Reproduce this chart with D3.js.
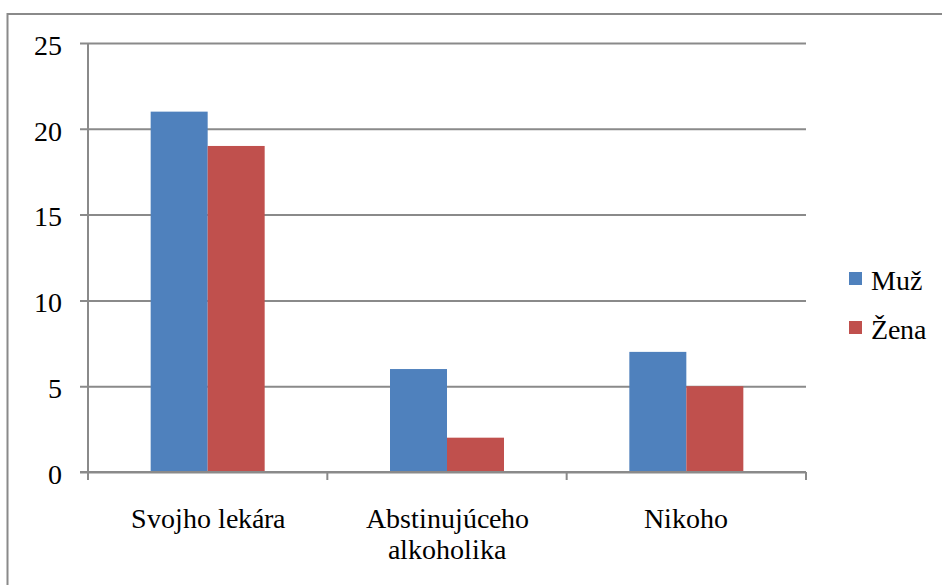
<!DOCTYPE html>
<html>
<head>
<meta charset="utf-8">
<script src="https://cdn.jsdelivr.net/npm/d3@7"></script>
<style>
  @font-face {
    font-family: "ChartSerif";
    src: local("Liberation Serif"), local("LiberationSerif"), local("LiberationSerif-Regular"), local("Times New Roman");
  }
  html, body { margin: 0; padding: 0; background: #fff; }
  svg { display: block; }
</style>
</head>
<body>
<svg id="chart" width="942" height="585"></svg>
<script>
// Who respondents would turn to, by gender
const categories = [["Svojho lekára"], ["Abstinujúceho", "alkoholika"], ["Nikoho"]];
const seriesNames = ["Muž", "Žena"];
const muzValues = [21, 6, 7];
const zenaValues = [19, 2, 5];
const yTicks = [0, 5, 10, 15, 20, 25];
const colors = ["#4F81BD", "#C0504D"];

const FONT = "ChartSerif, 'Liberation Serif', 'Times New Roman', serif";
const FONT_SIZE = 28;
const svg = d3.select("#chart");
const gridColor = "#8a8a8a";

// Outer chart frame (runs past the right and bottom edges)
svg.append("rect")
  .attr("x", 7.5).attr("y", 14)
  .attr("width", 1000).attr("height", 700)
  .attr("fill", "none").attr("stroke", gridColor).attr("stroke-width", 2);

const plot = { left: 88, right: 806, top: 43, bottom: 472 };

const x = d3.scaleBand()
  .domain(d3.range(categories.length))
  .range([plot.left, plot.right])
  .paddingInner(0).paddingOuter(0);

const y = d3.scaleLinear().domain([0, 25]).range([plot.bottom, plot.top]);

// Horizontal gridlines with small outward ticks
const yAxis = d3.axisLeft(y).tickValues(yTicks)
  .tickSize(-(plot.right - plot.left)).tickFormat(d3.format("d"));
const gy = svg.append("g").attr("transform", `translate(${plot.left},0)`).call(yAxis)
  .attr("font-family", FONT).attr("font-size", FONT_SIZE);
gy.select(".domain").remove();
gy.selectAll(".tick line")
  .attr("x1", -8)
  .attr("stroke", gridColor).attr("stroke-width", 2);
gy.selectAll(".tick text")
  .attr("x", -26)
  .attr("dy", "0.4em")
  .attr("fill", "#000")
  .style("font-family", FONT)
  .style("font-size", FONT_SIZE + "px");

// Vertical axis line
svg.append("line")
  .attr("x1", plot.left).attr("x2", plot.left)
  .attr("y1", plot.top).attr("y2", plot.bottom + 8)
  .attr("stroke", gridColor).attr("stroke-width", 2);

// Category boundary tick marks
const boundaries = d3.range(categories.length + 1).map(i =>
  i < categories.length ? x(i) : x(categories.length - 1) + x.bandwidth());
svg.selectAll(".xtick").data(boundaries).join("line")
  .attr("class", "xtick")
  .attr("x1", d => d).attr("x2", d => d)
  .attr("y1", plot.bottom).attr("y2", plot.bottom + 8)
  .attr("stroke", gridColor).attr("stroke-width", 2);

// Bars, two per category, centred in each band
const barWidth = 57;
const seriesData = [muzValues, zenaValues];
const groups = svg.selectAll(".grp").data(d3.range(categories.length)).join("g")
  .attr("class", "grp")
  .attr("transform", i => `translate(${x(i) + x.bandwidth() / 2 - barWidth},0)`);
groups.selectAll("rect")
  .data(i => seriesData.map((vals, s) => ({ s, v: vals[i] })))
  .join("rect")
  .attr("x", d => d.s * barWidth)
  .attr("width", barWidth)
  .attr("y", d => y(d.v))
  .attr("height", d => y(0) - y(d.v))
  .attr("fill", d => colors[d.s]);

// Zero line drawn over the bar bottoms
svg.append("line")
  .attr("x1", plot.left - 8).attr("x2", plot.right)
  .attr("y1", plot.bottom).attr("y2", plot.bottom)
  .attr("stroke", gridColor).attr("stroke-width", 2);

// Category labels
categories.forEach((lines, i) => {
  const t = svg.append("text")
    .attr("text-anchor", "middle")
    .attr("fill", "#000")
    .style("font-family", FONT)
    .style("font-size", FONT_SIZE + "px");
  lines.forEach((ln, j) => {
    t.append("tspan")
      .attr("x", x(i) + x.bandwidth() / 2)
      .attr("y", 528 + j * 31)
      .text(ln);
  });
});

// Legend
const legend = svg.append("g").attr("transform", "translate(849,272)");
seriesNames.forEach((name, i) => {
  const row = legend.append("g").attr("transform", `translate(0,${i * 49})`);
  row.append("rect").attr("width", 13).attr("height", 13).attr("fill", colors[i]);
  row.append("text").attr("x", 22).attr("y", 17.5)
    .attr("fill", "#000")
    .style("font-family", FONT)
    .style("font-size", FONT_SIZE + "px")
    .text(name);
});
</script>
</body>
</html>
